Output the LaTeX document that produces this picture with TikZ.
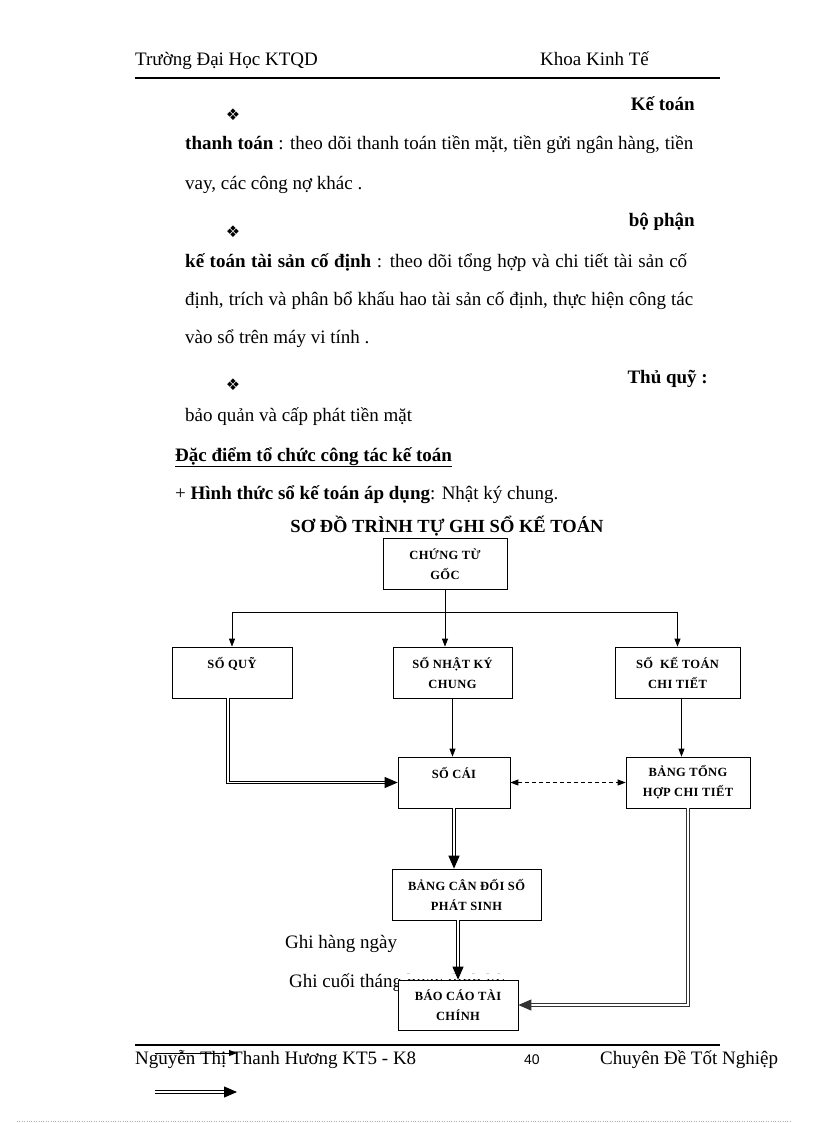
\documentclass[tikz,border=0pt]{standalone}
\usepackage{fontspec}
\setmainfont{Liberation Serif}
\newfontfamily\dingfont{DejaVu Sans}
\newfontfamily\numfont{Liberation Sans}
\newfontfamily\boxfont[LetterSpace=3]{Liberation Serif}
\usetikzlibrary{arrows.meta,positioning,calc}

\begin{document}
\begin{tikzpicture}[x=1pt,y=-1pt,
    txt/.style={inner sep=0pt,anchor=base west,font=\fontsize{19}{23}\selectfont},
    rtxt/.style={txt,anchor=base east,font=\bfseries\fontsize{19}{23}\selectfont},
    bullet/.style={inner sep=0pt,font=\dingfont\fontsize{16}{16}\selectfont},
    box/.style={draw,line width=0.7pt,fill=white,inner sep=0pt,minimum height=51pt,align=center,
      font=\boxfont\bfseries\fontsize{12.5}{20}\selectfont},
    arr/.style={line width=0.8pt,-{Triangle[length=8pt,width=6pt]}},
    dbl/.style={line width=0.9pt,double,double distance=1.8pt,-{Triangle[length=13pt,width=11pt]}},
    dblthick/.style={dbl,line width=1.3pt,double distance=1.5pt}]
  \useasboundingbox (0,0) rectangle (816,1123);
  % page header
  \node[txt] (school) at (135,66) {Trường Đại Học KTQD};
  \node[txt] (faculty) at (540,66) {Khoa Kinh Tế};
  \draw[line width=2pt] (135,78) coordinate (hl) -- (720,78) coordinate (hr);
  % text above the chart
  \node[bullet] (b1) at (233,115) {❖};
  \node[rtxt] (t1) at (695,111) {Kế toán};
  \node[txt] (t2) at (185,150) {\makebox[508pt][s]{\textbf{thanh toán} : theo dõi thanh toán tiền mặt, tiền gửi ngân hàng, tiền}};
  \node[txt] (t3) at (185,190) {vay, các công nợ khác .};
  \node[bullet] (b2) at (233,232) {❖};
  \node[rtxt] (t4) at (695,227) {bộ phận};
  \node[txt] (t5) at (185,267) {\makebox[502pt][s]{\textbf{kế toán tài sản cố định} : theo dõi tổng hợp và chi tiết tài sản cố}};
  \node[txt] (t6) at (185,305) {\makebox[508pt][s]{định, trích và phân bổ khấu hao tài sản cố định, thực hiện công tác}};
  \node[txt] (t7) at (185,343) {vào sổ trên máy vi tính .};
  \node[bullet] (b3) at (233,385) {❖};
  \node[rtxt] (t8) at (708,383) {Thủ quỹ :};
  \node[txt] (t9) at (185,421) {bảo quản và cấp phát tiền mặt};
  \node[txt] (t10) at (175,461) {\textbf{\underline{Đặc điểm tổ chức công tác kế toán}}};
  \node[txt] (t11) at (175,499) {+ \textbf{Hình thức sổ kế toán áp dụng}: Nhật ký chung.};
  \node[inner sep=0pt,anchor=base,font=\bfseries\fontsize{18.5}{22}\selectfont] (title) at (447,532) {SƠ ĐỒ TRÌNH TỰ GHI SỔ KẾ TOÁN};
  % legend texts (partly hidden by the last box)
  \node[txt] (daily) at (285,948) {Ghi hàng ngày};
  \node[txt] (monthly) at (289,987) {Ghi cuối tháng hoặc định kỳ};
  % boxes
  \node[box,minimum width=124pt] (ctg) at (445,564) {CHỨNG TỪ\\GỐC};
  \node[box,minimum width=120pt] (squy) at (232,672.5) {SỐ QUỸ\\\mbox{}};
  \node[box,minimum width=119pt] (snkc) at (452.5,672.5) {SỐ NHẬT KÝ\\CHUNG};
  \node[box,minimum width=125pt] (sktct) at (677.5,672.5) {SỐ \ KẾ TOÁN\\CHI TIẾT};
  \node[box,minimum width=112pt] (scai) at (454,782.5) {SỐ CÁI\\\mbox{}};
  \node[box,minimum width=124pt] (bth) at (688,782.5) {BẢNG TỔNG\\HỢP CHI TIẾT};
  \node[box,minimum width=149pt] (bcd) at (466.5,894.5) {BẢNG CÂN ĐỐI SỐ\\PHÁT SINH};
  \node[box,minimum width=120pt,minimum height=50pt] (bctc) at (458,1005) {BÁO CÁO TÀI\\CHÍNH};
  \fill[white] ([yshift=0.6pt]bctc.north west) rectangle ([yshift=6pt]bctc.north east);
  % connectors
  \coordinate (split) at (445,612);
  \draw[line width=0.8pt] (ctg) -- (split);
  \draw[line width=0.8pt] (split -| squy) -- (split -| sktct);
  \draw[arr] (split -| squy) -- (squy.north);
  \draw[arr] (split) -- (split |- snkc.north);
  \draw[arr] (split -| sktct) -- (sktct.north);
  \draw[arr] (snkc) -- (snkc |- scai.north);
  \draw[arr] ([xshift=4pt]sktct.south) -- ([xshift=4pt]sktct.south |- bth.north);
  \draw[dbl] ([xshift=-4pt]squy.south) |- (scai.west);
  \draw[line width=0.8pt,dash pattern=on 4pt off 3pt,{Triangle[length=8pt,width=6pt]}-{Triangle[length=8pt,width=6pt]}] (scai) -- (bth);
  \draw[dblthick] (scai) -- (scai |- bcd.north);
  \draw[dbl] (bcd.south -| bctc.north) -- (bctc.north);
  \draw[dbl,draw=black!80] (bth.south) |- (bctc.east);
  % page footer
  \draw[line width=2pt] (135,1045) coordinate (fl) -- (720,1045) coordinate (fr);
  \node[txt] (author) at (135,1064) {Nguyễn Thị Thanh Hương KT5 - K8};
  \node[txt,font=\numfont\fontsize{14}{16}\selectfont] (page) at (524,1064) {40};
  \node[txt] (thesis) at (600,1064) {Chuyên Đề Tốt Nghiệp};
  \coordinate (lg1a) at (155,1053);
  \coordinate (lg1b) at (237,1053);
  \coordinate (lg2a) at (155,1092);
  \coordinate (lg2b) at (237,1092);
  \draw[arr] (lg1a) -- (lg1b);
  \draw[dbl] (lg2a) -- (lg2b);
  \draw[black!30,dotted] (17,1121) -- (792,1121);
\end{tikzpicture}
\end{document}
